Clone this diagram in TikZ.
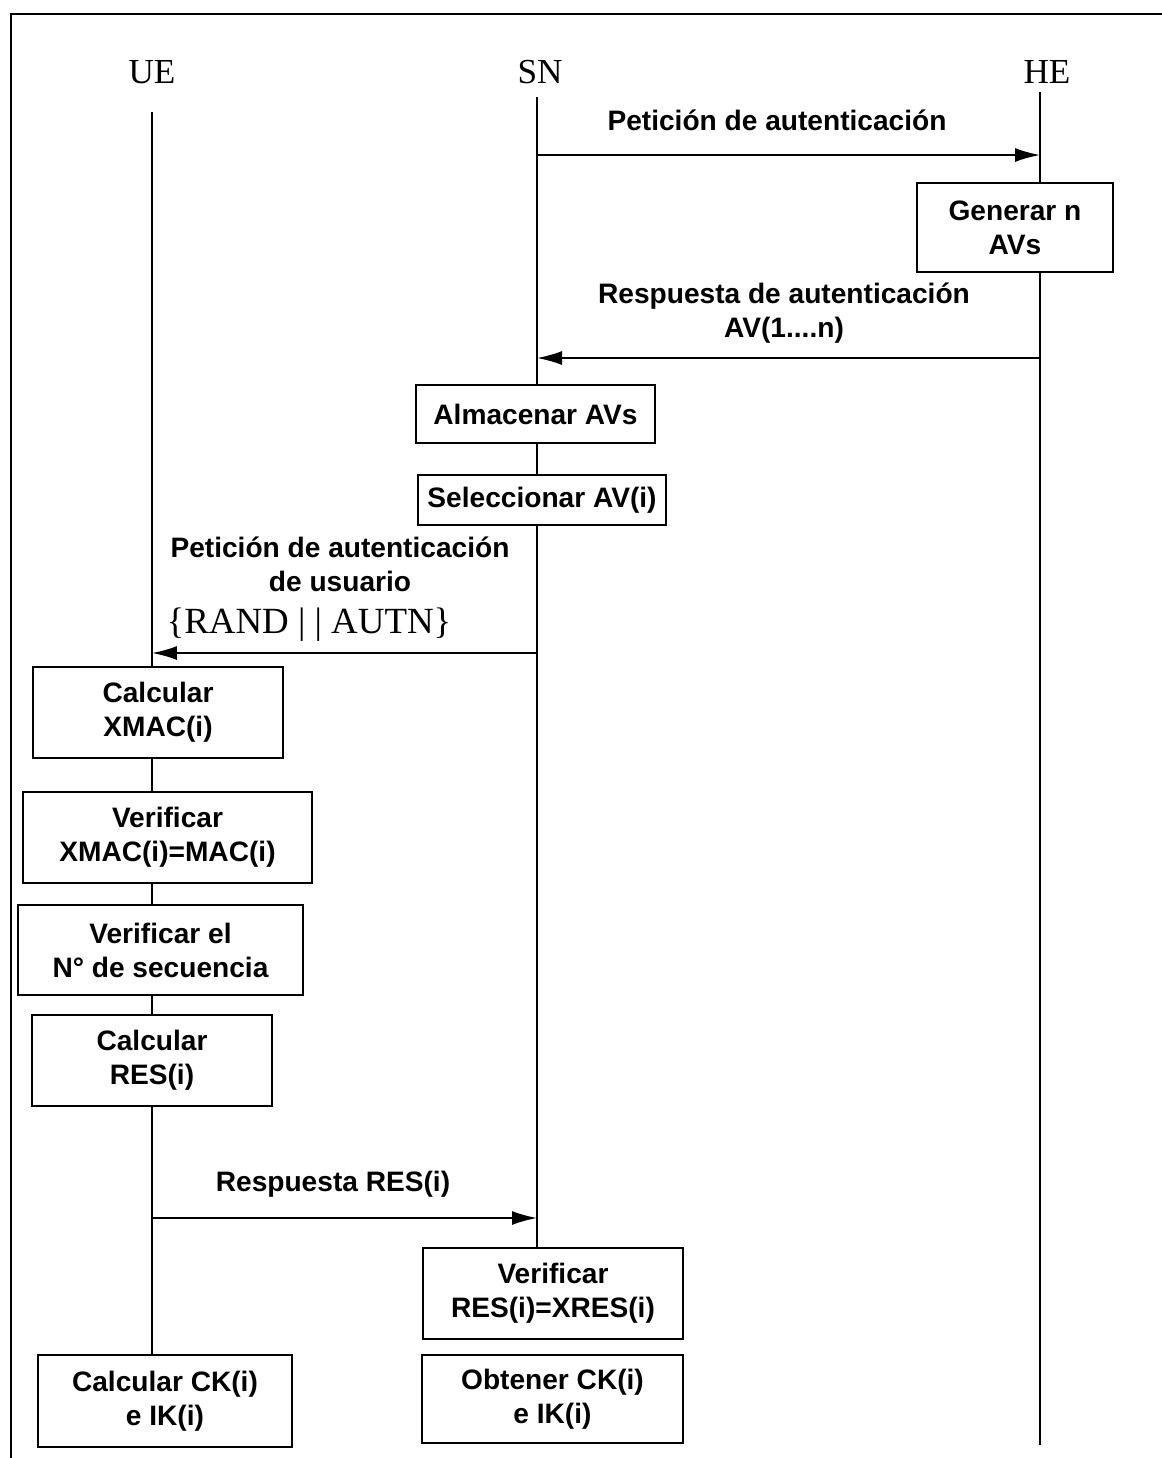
\documentclass[tikz,border=0pt]{standalone}
\usepackage{fontspec}
\setmainfont{Liberation Serif}
\setsansfont{Liberation Sans}
\usetikzlibrary{arrows.meta, positioning}

\begin{document}
\begin{tikzpicture}[x=0.02cm, y=-0.02cm, >={Latex[length=0.5cm,width=0.28cm]},
  every node/.style={font=\sffamily\bfseries\fontsize{16}{19.3}\selectfont, align=center},
  box/.style={draw, line width=0.9pt, fill=white, inner sep=0pt},
  actor/.style={font=\rmfamily\fontsize{20}{24}\selectfont},
  life/.style={line width=0.6pt},
  msg/.style={->, line width=1pt}]

\useasboundingbox (0,0) rectangle (1162,1458);

% Frame
\draw[line width=1.1pt] (11,1458) -- (11,14) -- (1162,14);

% Actors
\node[actor] (UE) at (152,72) {UE};
\node[actor] (SN) at (540,72) {SN};
\node[actor] (HE) at (1047,72) {HE};
\coordinate (UE-top) at (152,112);
\coordinate (UE-bot) at (152,1355);
\coordinate (SN-top) at (537,97);
\coordinate (SN-bot) at (537,1248);
\coordinate (HE-top) at (1040,92);
\coordinate (HE-bot) at (1040,1445);

% Lifelines
\draw[life] (UE-top) -- (UE-bot);
\draw[life] (SN-top) -- (SN-bot);
\draw[life] (HE-top) -- (HE-bot);

% Boxes
\node[box, minimum width=3.92cm, minimum height=1.78cm] (gen) at (1015,227.5) {Generar n\\AVs};
\node[box, minimum width=4.78cm, minimum height=1.16cm] (alm) at (535.5,414) {Almacenar AVs};
\node[box, minimum width=4.96cm, minimum height=1.0cm] (sel) at (542,500) {Seleccionar AV(i)};
\node[box, minimum width=5.0cm, minimum height=1.82cm] (xmac) at (158,712.5) {Calcular\\XMAC(i)};
\node[box, minimum width=5.78cm, minimum height=1.82cm] (ver) at (167.5,837.5) {Verificar\\XMAC(i)=MAC(i)};
\node[box, minimum width=5.7cm, minimum height=1.8cm] (seq) at (160.5,950) {Verificar el\\N° de secuencia};
\node[box, minimum width=4.8cm, minimum height=1.82cm] (res) at (152,1060.5) {Calcular\\RES(i)};
\node[box, minimum width=5.2cm, minimum height=1.82cm] (vres) at (553,1293.5) {Verificar\\RES(i)=XRES(i)};
\node[box, minimum width=5.22cm, minimum height=1.76cm] (obt) at (552.5,1399) {Obtener CK(i)\\e IK(i)};
\node[box, minimum width=5.08cm, minimum height=1.84cm] (ck) at (165,1401) {Calcular CK(i)\\e IK(i)};

% Messages
\coordinate (sn1) at (537,155);   \coordinate (he1) at (1040,155);
\coordinate (he2) at (1040,358);  \coordinate (sn2) at (537,358);
\coordinate (sn3) at (537,653);   \coordinate (ue3) at (152,653);
\coordinate (ue4) at (152,1218);  \coordinate (sn4) at (537,1218);
\draw[msg] (sn1) -- (he1);
\draw[msg] (he2) -- (sn2);
\draw[msg] (sn3) -- (ue3);
\draw[msg] (ue4) -- (sn4);

% Labels
\node (m1) at (777,120) {Petición de autenticación};
\node (m2) at (784,313) {Respuesta de autenticación\\AV(1....n)};
\node (m3) at (340,564) {Petición de autenticación\\de usuario};
\node[font=\rmfamily\fontsize{21}{24}\selectfont] (rand) at (309,625) {\{RAND | | AUTN\}};
\node (m4) at (333,1184) {Respuesta RES(i)};

\end{tikzpicture}
\end{document}
